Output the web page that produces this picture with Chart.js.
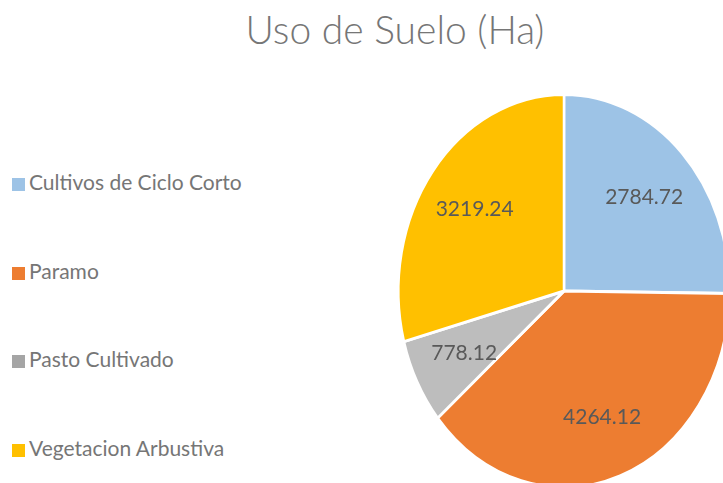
<!DOCTYPE html>
<html>
<head>
<meta charset="utf-8">
<script src="https://cdn.jsdelivr.net/npm/chart.js@4"></script>
<style>
  body { margin: 0; width: 723px; height: 483px; overflow: hidden; background: #fff; position: relative; font-family: Lato, "Open Sans", sans-serif; }
  #titulo { position: absolute; left: 0; width: 790px; top: 6px; text-align: center; font-size: 39px; font-weight: 300; color: #767676; }
  #leyenda { position: absolute; left: 12px; top: 169px; }
  #leyenda div { height: 88.6px; font-size: 21px; color: #767676; display: flex; align-items: flex-start; }
  #leyenda span.caja { width: 13px; height: 13px; margin-right: 4px; margin-top: 9px; }
  #contenedor { position: absolute; left: 0; top: 0; }
</style>
</head>
<body>
<div id="titulo">Uso de Suelo (Ha)</div>
<div id="leyenda"></div>
<div id="contenedor"><canvas id="graficoSuelo" width="800" height="500"></canvas></div>
<script>
// Datos
const categorias = ["Cultivos de Ciclo Corto", "Paramo", "Pasto Cultivado", "Vegetacion Arbustiva"];
const hectareas = [2784.72, 4264.12, 778.12, 3219.24];
const colores = ["#9DC3E6", "#ED7D31", "#BDBDBD", "#FFC000"];
const coloresLeyenda = ["#9DC3E6", "#ED7D31", "#A5A5A5", "#FFC000"];

// la torta original esta achatada en horizontal
const escalaX = 0.843;

// Leyenda
const leyenda = document.getElementById('leyenda');
categorias.forEach((cat, i) => {
	const div = document.createElement('div');
	div.innerHTML = `<span class="caja" style="background:${coloresLeyenda[i]}"></span><span>${cat}</span>`;
	leyenda.appendChild(div);
});

const elipse = {
	id: 'elipse',
	beforeDatasetsDraw(chart) {
		const arco = chart.getDatasetMeta(0).data[0];
		const ctx = chart.ctx;
		ctx.save();
		ctx.translate(arco.x, 0);
		ctx.scale(escalaX, 1);
		ctx.translate(-arco.x, 0);
	},
	afterDatasetsDraw(chart) {
		const ctx = chart.ctx;
		ctx.restore();
		ctx.save();
		ctx.font = '21px Lato, "Open Sans", sans-serif';
		ctx.fillStyle = '#595959';
		ctx.textAlign = 'center';
		ctx.textBaseline = 'middle';
		chart.getDatasetMeta(0).data.forEach((arco, i) => {
			const ang = (arco.startAngle + arco.endAngle) / 2;
			const r = arco.outerRadius * 0.68;
			const x = arco.x + Math.cos(ang) * r * escalaX;
			const y = arco.y + Math.sin(ang) * r;
			ctx.fillText(hectareas[i].toFixed(2), x, y);
		});
		ctx.restore();
	}
};

new Chart(document.getElementById('graficoSuelo'), {
	type: 'pie',
	data: {
		labels: categorias,
		datasets: [{
			data: hectareas,
			backgroundColor: colores,
			borderColor: '#ffffff',
			borderWidth: 3
		}]
	},
	options: {
		responsive: false,
		animation: false,
		layout: { padding: { left: 366, right: 38, top: 93, bottom: 11 } },
		plugins: {
			legend: { display: false },
			tooltip: { enabled: false }
		}
	},
	plugins: [elipse]
});
</script>
</body>
</html>
